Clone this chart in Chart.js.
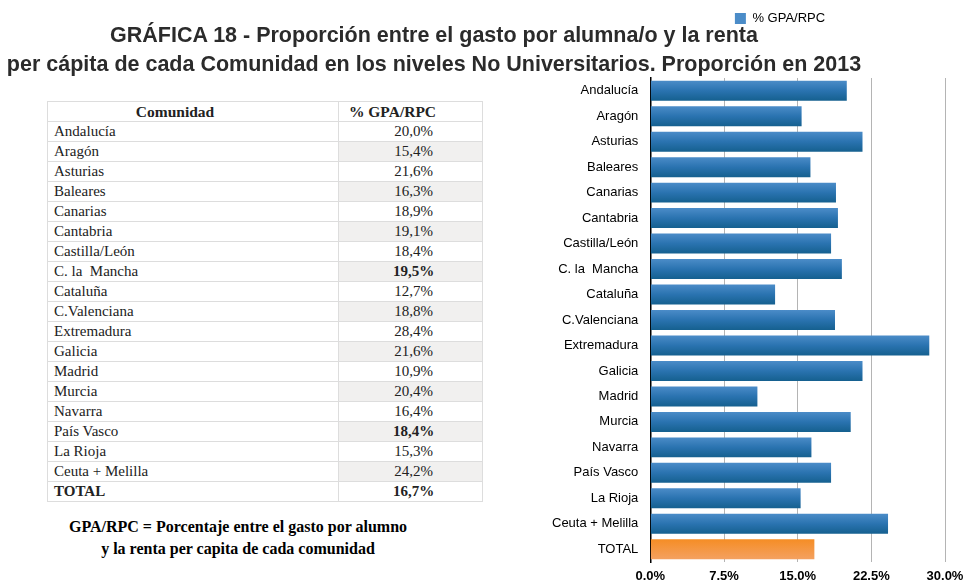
<!DOCTYPE html>
<html>
<head>
<meta charset="utf-8">
<script src="https://cdn.jsdelivr.net/npm/chart.js@4.4.1/dist/chart.umd.min.js"></script>
<style>
    html, body { margin: 0; padding: 0; background: #fff; overflow: hidden; }
    body { width: 969px; height: 582px; position: relative; }
    #title {
        position: absolute; left: 0; top: 21px; width: 868px; z-index: 2;
        text-align: center; font-family: "Liberation Sans", Arial, sans-serif;
        font-weight: bold; font-size: 21.5px; line-height: 29px; color: #2b2b2b;
    }
    #chartBox { position: absolute; left: 540px; top: 0; width: 480px; height: 582px; }
    #gpaTable {
        position: absolute; left: 47px; top: 101px; width: 436px;
        border-collapse: collapse; font-family: "Liberation Serif", "Times New Roman", serif;
        font-size: 15px; color: #222; border: 1px solid #ddd;
    }
    #gpaTable td, #gpaTable th { height: 19px; padding: 0; border-bottom: 1px solid #ddd; line-height: 19px; }
    #gpaTable th { font-weight: bold; text-align: center; font-size: 15.5px; padding-right: 36px; }
    #gpaTable th.name { width: 254px; border-right: 1px solid #ddd; }
    #gpaTable td.name { padding-left: 6px; width: 284px; border-right: 1px solid #ddd; }
    #gpaTable td.val { text-align: center; padding-left: 6px; }
    #gpaTable tr.shade td.val { background: #f1f0ef; }
    #gpaTable .bold { font-weight: bold; }
    #note {
        position: absolute; left: 38px; top: 516px; width: 400px; text-align: center;
        font-family: "Liberation Serif", "Times New Roman", serif; font-weight: bold;
        font-size: 16px; line-height: 22px; color: #000;
    }
</style>
</head>
<body>
<div id="title">GRÁFICA 18 - Proporción entre el gasto por alumna/o y la renta<br>per cápita de cada Comunidad en los niveles No Universitarios. Proporción en 2013</div>
<table id="gpaTable"><thead><tr><th class="name">Comunidad</th><th>% GPA/RPC</th></tr></thead><tbody id="tableBody"></tbody></table>
<div id="note">GPA/RPC = Porcentaje entre el gasto por alumno<br>y la renta per capita de cada comunidad</div>
<div id="chartBox"><canvas id="gpaChart" width="480" height="582"></canvas></div>

<script>
const comunidades = [
    'Andalucía', 'Aragón', 'Asturias', 'Baleares', 'Canarias', 'Cantabria',
    'Castilla/León', 'C. la  Mancha', 'Cataluña', 'C.Valenciana', 'Extremadura',
    'Galicia', 'Madrid', 'Murcia', 'Navarra', 'País Vasco', 'La Rioja',
    'Ceuta + Melilla', 'TOTAL'
];
const gpaRpc = [
    20.0, 15.4, 21.6, 16.3, 18.9, 19.1,
    18.4, 19.5, 12.7, 18.8, 28.4,
    21.6, 10.9, 20.4, 16.4, 18.4, 15.3,
    24.2, 16.7
];
const xTicks = [0, 7.5, 15, 22.5, 30];
const boldValues = ['C. la  Mancha', 'País Vasco', 'TOTAL'];

// table on the left
const tbody = document.getElementById('tableBody');
comunidades.forEach((name, i) => {
    const tr = document.createElement('tr');
    if (i % 2 === 1) tr.className = 'shade';
    const isTotal = name === 'TOTAL';
    const valText = gpaRpc[i].toFixed(1).replace('.', ',') + '%';
    tr.innerHTML = '<td class="name' + (isTotal ? ' bold' : '') + '">' + name.replace(/  /g, '&nbsp; ') + '</td>' +
        '<td class="val' + (boldValues.includes(name) ? ' bold' : '') + '">' + valText + '</td>';
    tbody.appendChild(tr);
});

function barGradient(context) {
    const isTotal = context.dataIndex === comunidades.length - 1;
    const solid = isTotal ? '#f7943a' : '#2b72ad';
    const chart = context.chart;
    if (context.type !== 'data' || !chart.chartArea || !chart.scales.y) return solid;
    const c = chart.scales.y.getPixelForValue(context.dataIndex);
    const g = chart.ctx.createLinearGradient(0, c - 10, 0, c + 10);
    if (isTotal) {
        g.addColorStop(0, '#f58d25');
        g.addColorStop(1, '#f4a160');
    } else {
        g.addColorStop(0, '#4b8cc8');
        g.addColorStop(0.5, '#2a73b0');
        g.addColorStop(1, '#15608f');
    }
    return g;
}

// extra room under the legend
const legendSpace = {
    id: 'legendSpace',
    beforeInit(chart) {
        const fit = chart.legend.fit;
        chart.legend.fit = function() {
            fit.bind(chart.legend)();
            this.height += 43;
        };
    }
};

const ctx = document.getElementById('gpaChart').getContext('2d');
const gpaChart = new Chart(ctx, {
    type: 'bar',
    data: {
        labels: comunidades,
        datasets: [{
            label: '% GPA/RPC',
            data: gpaRpc,
            backgroundColor: barGradient,
            borderWidth: 0,
            barPercentage: 0.8,
            categoryPercentage: 0.98
        }]
    },
    options: {
        indexAxis: 'y',
        responsive: false,
        animation: false,
        layout: { padding: { left: 0, right: 0, top: 4, bottom: -9 } },
        scales: {
            x: {
                min: 0,
                max: 30,
                afterBuildTicks: function(axis) {
                    axis.ticks = xTicks.map(v => ({ value: v }));
                },
                grid: { color: '#b4b4b4', drawTicks: false },
                border: { display: false },
                ticks: {
                    color: '#000',
                    padding: 8,
                    font: { family: 'Liberation Sans', size: 13, weight: 'bold', lineHeight: 1 },
                    callback: function(value) {
                        return value.toFixed(1) + '%';
                    }
                }
            },
            y: {
                grid: { display: false, drawTicks: false },
                border: { color: '#000', width: 1.5 },
                ticks: {
                    color: '#000',
                    padding: 12,
                    font: { family: 'Liberation Sans', size: 13 }
                }
            },
            // empty right-hand margin so the legend sits where the original has it
            yRight: {
                type: 'category',
                position: 'right',
                grid: { display: false, drawTicks: false },
                border: { display: false },
                ticks: { display: false },
                afterFit: function(axis) {
                    axis.width = 75;
                }
            }
        },
        plugins: {
            legend: {
                position: 'top',
                labels: {
                    color: '#000',
                    boxWidth: 11,
                    boxHeight: 11,
                    padding: 8,
                    font: { family: 'Liberation Sans', size: 13 }
                }
            },
            tooltip: { enabled: false }
        }
    },
    plugins: [legendSpace]
});
</script>
</body>
</html>
